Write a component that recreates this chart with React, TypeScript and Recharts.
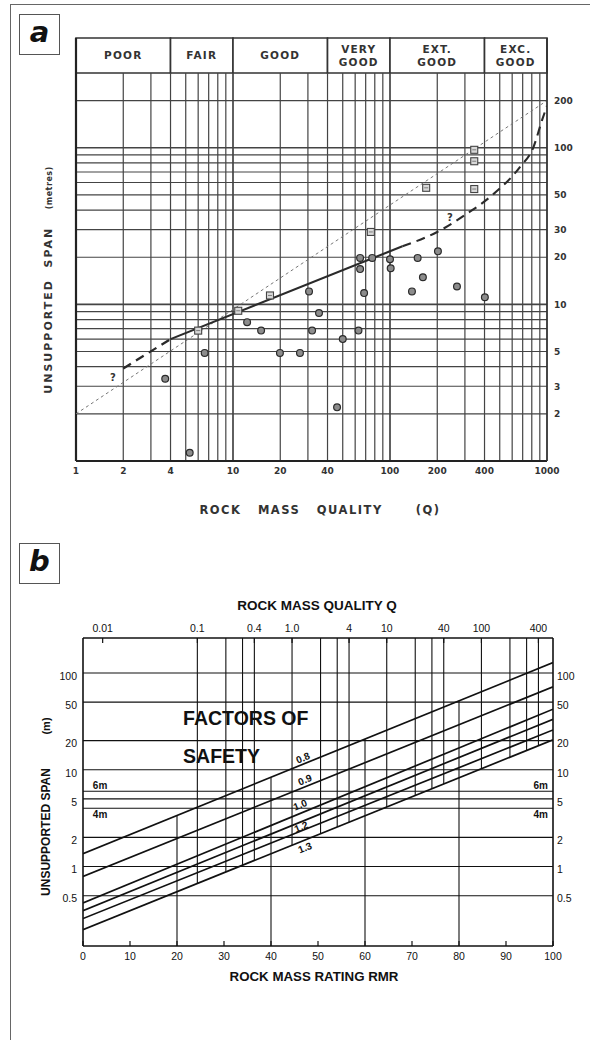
import React from "react";
import {
  ComposedChart,
  Line,
  Scatter,
  XAxis,
  YAxis,
  ReferenceLine,
  ReferenceArea,
  ReferenceDot,
} from "recharts";

// two panels: (a) Barton case records, (b) Bieniawski span vs RMR with factors of safety

const FONT_A = "'DejaVu Sans', sans-serif";
const FONT_B = "'Liberation Sans', Arial, sans-serif";
const INK_A = "#333";
const INK_B = "#111";

// ---------- panel a ----------
const qTicksA = [1, 2, 4, 10, 20, 40, 100, 200, 400, 1000];
const spanTicksA = [2, 3, 4, 5, 10, 20, 30, 40, 50, 100, 200];
const qGridA = [2, 3, 4, 5, 6, 7, 8, 9, 10, 20, 30, 40, 50, 60, 70, 80, 90, 100, 200, 300, 400, 500, 600, 700, 800, 900];
const spanGridA = [2, 3, 4, 5, 6, 7, 8, 9, 10, 20, 30, 40, 50, 60, 70, 80, 90, 100, 200];
const qClassNames = [["POOR"], ["FAIR"], ["GOOD"], ["VERY", "GOOD"], ["EXT.", "GOOD"], ["EXC.", "GOOD"]];
const qClassBounds = [1, 4, 10, 40, 100, 400, 1000];

const trendLine = [
  { q: 1, span: 2 },
  { q: 1000, span: 200 },
];
const maxSpanLow = [
  { q: 2, span: 3.9 },
  { q: 4, span: 6 },
];
const maxSpanMid = [
  { q: 4, span: 6 },
  { q: 120, span: 23.5 },
];
const maxSpanHigh = [
  { q: 120, span: 23.5 },
  { q: 200, span: 29 },
  { q: 310, span: 38 },
  { q: 450, span: 50 },
  { q: 670, span: 75 },
  { q: 820, span: 101 },
  { q: 930, span: 150 },
  { q: 1000, span: 185 },
];
const caseCircles = [
  { q: 3.7, span: 3.35 },
  { q: 5.3, span: 1.13 },
  { q: 6.6, span: 4.9 },
  { q: 12.3, span: 7.7 },
  { q: 15.1, span: 6.8 },
  { q: 19.9, span: 4.9 },
  { q: 26.7, span: 4.9 },
  { q: 30.5, span: 12.1 },
  { q: 31.9, span: 6.8 },
  { q: 35.3, span: 8.8 },
  { q: 46, span: 2.2 },
  { q: 50, span: 6.0 },
  { q: 63, span: 6.8 },
  { q: 64.5, span: 19.8 },
  { q: 64.5, span: 16.8 },
  { q: 68.4, span: 11.8 },
  { q: 77, span: 19.8 },
  { q: 100, span: 19.4 },
  { q: 101, span: 17 },
  { q: 138, span: 12.1 },
  { q: 150, span: 19.8 },
  { q: 162, span: 14.9 },
  { q: 202, span: 21.8 },
  { q: 267, span: 13 },
  { q: 402, span: 11.1 },
];
const caseSquares = [
  { q: 6.0, span: 6.8 },
  { q: 10.8, span: 9.1 },
  { q: 17.2, span: 11.4 },
  { q: 75.5, span: 29 },
  { q: 170, span: 55.5 },
  { q: 344, span: 97 },
  { q: 344, span: 82 },
  { q: 344, span: 54.5 },
];

// ---------- panel b ----------
const rmrTicks = [0, 10, 20, 30, 40, 50, 60, 70, 80, 90, 100];
const qTicksB = [0.01, 0.1, 0.4, 1, 4, 10, 40, 100, 400];
const qLabelsB = ["0.01", "0.1", "0.4", "1.0", "4", "10", "40", "100", "400"];
const qGridB = [0.1, 0.2, 0.3, 0.4, 1, 2, 3, 4, 10, 20, 30, 40, 100, 200, 300, 400];
const rmrGrid = [20, 40, 60, 80];
const spanTicksB = [0.5, 1, 2, 5, 10, 20, 50, 100];
const spanGridB = [0.5, 1, 2, 4, 5, 6, 10, 20, 50, 100];
const fsNames = ["0.8", "0.9", "1.0", "1.1", "1.2", "1.3"];
const fsSpanAt0 = [1.36, 0.79, 0.42, 0.35, 0.29, 0.223];
const fsSpanAt100 = [128, 72, 42.3, 33.3, 25.8, 20.4];

// Q scale printed along the top edge (log), spanning RMR 0..100
const Q_AT_RMR_0 = 0.0062;
const Q_AT_RMR_100 = 570;
const SPAN_DOMAIN_B: [number, number] = [0.151, 230];

const fsSeries = fsNames.map((name, i) => ({
  name,
  data: [
    { rmr: 0, span: fsSpanAt0[i] },
    { rmr: 100, span: fsSpanAt100[i] },
  ],
}));

// span of a (log-straight) FS line at a given RMR
function spanOn(i: number, rmr: number) {
  const a = Math.log10(fsSpanAt0[i]);
  const b = Math.log10(fsSpanAt100[i]);
  return Math.pow(10, a + ((b - a) * rmr) / 100);
}
function qToRmr(q: number) {
  const lo = Math.log10(Q_AT_RMR_0);
  const hi = Math.log10(Q_AT_RMR_100);
  return (100 * (Math.log10(q) - lo)) / (hi - lo);
}

function HeaderLabel({ viewBox, rows }: any) {
  if (!viewBox) return null;
  const cx = viewBox.x + viewBox.width / 2;
  const cy = viewBox.y + viewBox.height / 2;
  const start = cy - ((rows.length - 1) * 13) / 2;
  return (
    <text textAnchor="middle" fontFamily={FONT_A} fontWeight="bold" fontSize={10.5} letterSpacing={1.2} fill={INK_A}>
      {rows.map((r: string, k: number) => (
        <tspan key={k} x={cx} y={start + k * 13} dy="0.36em">
          {r}
        </tspan>
      ))}
    </text>
  );
}

function Annot({ viewBox, txt, rot = 0, anchor = "middle", size = 10, font = FONT_B, color = INK_B }: any) {
  if (!viewBox) return null;
  const cx = viewBox.x + (viewBox.width || 0) / 2;
  const cy = viewBox.y + (viewBox.height || 0) / 2;
  return (
    <text
      x={cx}
      y={cy}
      dy="0.36em"
      textAnchor={anchor}
      transform={rot ? `rotate(${rot} ${cx} ${cy})` : undefined}
      fontFamily={font}
      fontSize={size}
      fontWeight="bold"
      fill={color}
    >
      {txt}
    </text>
  );
}

// tick mark + label on the top (Q) edge
function QTopLabel({ viewBox, txt }: any) {
  if (!viewBox) return null;
  const x = viewBox.x;
  const y = viewBox.y;
  return (
    <g>
      <line x1={x} x2={x} y1={y} y2={y + 5} stroke={INK_B} strokeWidth={1.2} />
      <text x={x} y={y - 6} textAnchor="middle" fontFamily={FONT_B} fontSize={10.5} fill={INK_B}>
        {txt}
      </text>
    </g>
  );
}

const TickBottomA = ({ x, y, payload }: any) => (
  <text x={x} y={y + 13} textAnchor="middle" fontFamily={FONT_A} fontWeight="bold" fontSize={9} fill={INK_A}>
    {payload.value}
  </text>
);
const TickRightA = ({ x, y, payload }: any) => (
  <text x={x + 7} y={y} dy="0.36em" textAnchor="start" fontFamily={FONT_A} fontWeight="bold" fontSize={9} fill={INK_A}>
    {payload.value}
  </text>
);
const TickBottomB = ({ x, y, payload }: any) => (
  <g>
    <line x1={x} x2={x} y1={y} y2={y - 5} stroke={INK_B} strokeWidth={1.2} />
    <text x={x} y={y + 14} textAnchor="middle" fontFamily={FONT_B} fontSize={10.5} fill={INK_B}>
      {payload.value}
    </text>
  </g>
);
const TickLeftB = ({ x, y, payload }: any) => (
  <text x={x - 6} y={y + 3} dy="0.36em" textAnchor="end" fontFamily={FONT_B} fontSize={10.5} fill={INK_B}>
    {payload.value}
  </text>
);
const TickRightB = ({ x, y, payload }: any) => (
  <text x={x + 4} y={y + 3} dy="0.36em" textAnchor="start" fontFamily={FONT_B} fontSize={10.5} fill={INK_B}>
    {payload.value}
  </text>
);

const circleShape = (p: any) => (
  <circle cx={p.cx} cy={p.cy} r={3.4} fill="#8c8c8c" stroke="#2b2b2b" strokeWidth={1.2} />
);
const squareShape = (p: any) => (
  <g>
    <rect x={p.cx - 3.5} y={p.cy - 3.5} width={7} height={7} fill="#d8d8d8" stroke="#444" strokeWidth={1.1} />
    <line x1={p.cx - 2} x2={p.cx + 2} y1={p.cy} y2={p.cy} stroke="#666" strokeWidth={0.8} />
  </g>
);

function Txt({ x, y, children, size, font, rotate = 0, spacing = 0, color, weight = "bold" }: any) {
  return (
    <div
      style={{
        position: "absolute",
        left: x,
        top: y,
        transform: `translate(-50%,-50%) rotate(${rotate}deg)`,
        fontFamily: font,
        fontSize: size,
        fontWeight: weight,
        letterSpacing: spacing,
        color,
        whiteSpace: "pre",
        lineHeight: 1,
      }}
    >
      {children}
    </div>
  );
}

function PanelTag({ top, letter }: { top: number; letter: string }) {
  return (
    <div
      style={{
        position: "absolute",
        left: 19,
        top,
        width: 39,
        height: 39,
        border: "1px solid #555",
        display: "flex",
        alignItems: "center",
        justifyContent: "center",
        fontFamily: FONT_A,
        fontStyle: "italic",
        fontWeight: "bold",
        fontSize: 29,
        lineHeight: 1,
        color: "#111",
      }}
    >
      <span style={{ marginTop: -4 }}>{letter}</span>
    </div>
  );
}

function PanelA() {
  const grid = "#444";
  return (
    <ComposedChart width={590} height={520} margin={{ top: 38, right: 0, left: 76, bottom: 0 }}>
      <XAxis
        dataKey="q"
        type="number"
        scale="log"
        domain={[1, 1000]}
        allowDataOverflow
        ticks={qTicksA}
        tick={<TickBottomA />}
        tickLine={false}
        tickSize={0}
        tickMargin={0}
        height={59}
        axisLine={{ stroke: "#222", strokeWidth: 2.2 }}
      />
      <YAxis
        dataKey="span"
        type="number"
        scale="log"
        orientation="right"
        domain={[1, 502]}
        allowDataOverflow
        ticks={spanTicksA}
        tick={<TickRightA />}
        tickLine={false}
        tickSize={0}
        tickMargin={0}
        width={43}
        axisLine={{ stroke: "#333", strokeWidth: 1.8 }}
      />
      {spanGridA.map((v) => (
        <ReferenceLine key={"h" + v} y={v} stroke={grid} strokeWidth={v === 10 || v === 100 ? 1.7 : 1.2} />
      ))}
      {qGridA.map((v) => (
        <ReferenceLine
          key={"v" + v}
          segment={[
            { x: v, y: 1 },
            { x: v, y: 300 },
          ]}
          stroke={grid}
          strokeWidth={v === 10 || v === 100 ? 1.7 : 1.2}
        />
      ))}
      {qClassNames.map((rows, i) => (
        <ReferenceArea
          key={"c" + i}
          x1={qClassBounds[i]}
          x2={qClassBounds[i + 1]}
          y1={300}
          y2={502}
          fill="#fff"
          fillOpacity={1}
          stroke="#333"
          strokeWidth={1.6}
          label={<HeaderLabel rows={rows} />}
        />
      ))}
      <ReferenceLine x={1} stroke="#222" strokeWidth={2.2} />
      <Line data={trendLine} dataKey="span" stroke="#777" strokeWidth={1} strokeDasharray="3 3" dot={false} isAnimationActive={false} />
      <Line data={maxSpanLow} dataKey="span" stroke="#2a2a2a" strokeWidth={2.3} strokeDasharray="9 6" dot={false} isAnimationActive={false} />
      <Line data={maxSpanMid} dataKey="span" stroke="#2a2a2a" strokeWidth={2.1} dot={false} isAnimationActive={false} />
      <Line data={maxSpanHigh} type="monotone" dataKey="span" stroke="#2a2a2a" strokeWidth={2.1} strokeDasharray="9 6" dot={false} isAnimationActive={false} />
      <Scatter data={caseCircles} dataKey="span" shape={circleShape} isAnimationActive={false} />
      <Scatter data={caseSquares} dataKey="span" shape={squareShape} isAnimationActive={false} />
      <ReferenceDot x={1.72} y={3.44} r={0.1} fill="none" stroke="none" label={<Annot txt="?" size={10} font={FONT_A} color={INK_A} />} />
      <ReferenceDot x={241} y={35.7} r={0.1} fill="none" stroke="none" label={<Annot txt="?" size={10} font={FONT_A} color={INK_A} />} />
    </ComposedChart>
  );
}

function PanelB() {
  const ax = { xAxisId: "rmr", yAxisId: "l" };
  const frame = { stroke: INK_B, strokeWidth: 1.6 };
  const top = SPAN_DOMAIN_B[1];
  return (
    <ComposedChart width={590} height={440} margin={{ top: 78, right: 0, left: 0, bottom: 0 }}>
      <XAxis
        xAxisId="rmr"
        dataKey="rmr"
        type="number"
        domain={[0, 100]}
        allowDataOverflow
        ticks={rmrTicks}
        tick={<TickBottomB />}
        tickLine={false}
        tickSize={0}
        tickMargin={0}
        height={54}
        axisLine={frame}
      />
      <YAxis
        yAxisId="l"
        dataKey="span"
        type="number"
        scale="log"
        domain={SPAN_DOMAIN_B}
        allowDataOverflow
        ticks={spanTicksB}
        tick={<TickLeftB />}
        tickLine={false}
        tickSize={0}
        tickMargin={0}
        width={83}
        axisLine={frame}
      />
      <YAxis
        yAxisId="r"
        orientation="right"
        type="number"
        scale="log"
        domain={SPAN_DOMAIN_B}
        allowDataOverflow
        ticks={spanTicksB}
        tick={<TickRightB />}
        tickLine={false}
        tickSize={0}
        tickMargin={0}
        width={37}
        axisLine={frame}
      />
      <ReferenceLine {...ax} y={top} stroke={INK_B} strokeWidth={1.6} />
      {spanGridB.map((v) => (
        <ReferenceLine key={"h" + v} {...ax} y={v} stroke={INK_B} strokeWidth={1.1} />
      ))}
      {rmrGrid.map((v) => (
        <ReferenceLine
          key={"r" + v}
          {...ax}
          segment={[
            { x: v, y: SPAN_DOMAIN_B[0] },
            { x: v, y: spanOn(0, v) },
          ]}
          stroke={INK_B}
          strokeWidth={1.1}
        />
      ))}
      {qGridB.map((v) => {
        const r = qToRmr(v);
        return (
          <ReferenceLine
            key={"q" + v}
            {...ax}
            segment={[
              { x: r, y: top },
              { x: r, y: spanOn(5, r) },
            ]}
            stroke={INK_B}
            strokeWidth={1.1}
          />
        );
      })}
      {qTicksB.map((v, i) => {
        const r = qToRmr(v);
        return (
          <ReferenceLine
            key={"qt" + v}
            {...ax}
            segment={[
              { x: r, y: top },
              { x: r, y: top },
            ]}
            stroke="none"
            label={<QTopLabel txt={qLabelsB[i]} />}
          />
        );
      })}
      {fsSeries.map((s) => (
        <Line
          key={s.name}
          {...ax}
          data={s.data}
          dataKey="span"
          name={s.name}
          stroke={INK_B}
          strokeWidth={1.7}
          dot={false}
          isAnimationActive={false}
        />
      ))}
      <ReferenceDot {...ax} x={46.8} y={13.3} r={0.1} fill="none" stroke="none" label={<Annot txt="0.8" rot={-22} />} />
      <ReferenceDot {...ax} x={47.2} y={7.9} r={0.1} fill="none" stroke="none" label={<Annot txt="0.9" rot={-22} />} />
      <ReferenceDot {...ax} x={46.2} y={4.35} r={0.1} fill="none" stroke="none" label={<Annot txt="1.0" rot={-22} />} />
      <ReferenceDot {...ax} x={46.4} y={2.58} r={0.1} fill="none" stroke="none" label={<Annot txt="1.2" rot={-22} />} />
      <ReferenceDot {...ax} x={47.2} y={1.57} r={0.1} fill="none" stroke="none" label={<Annot txt="1.3" rot={-22} />} />
      <ReferenceDot {...ax} x={2.1} y={6.84} r={0.1} fill="none" stroke="none" label={<Annot txt="6m" anchor="start" />} />
      <ReferenceDot {...ax} x={2.1} y={3.44} r={0.1} fill="none" stroke="none" label={<Annot txt="4m" anchor="start" />} />
      <ReferenceDot {...ax} x={98.9} y={6.84} r={0.1} fill="none" stroke="none" label={<Annot txt="6m" anchor="end" />} />
      <ReferenceDot {...ax} x={98.9} y={3.44} r={0.1} fill="none" stroke="none" label={<Annot txt="4m" anchor="end" />} />
      <ReferenceDot {...ax} x={21.3} y={34.4} r={0.1} fill="none" stroke="none" label={<Annot txt="FACTORS OF" anchor="start" size={19.5} />} />
      <ReferenceDot {...ax} x={21.3} y={13.9} r={0.1} fill="none" stroke="none" label={<Annot txt="SAFETY" anchor="start" size={19.5} />} />
    </ComposedChart>
  );
}

export default function App() {
  return (
    <div style={{ position: "absolute", left: 0, top: 0, width: 590, height: 1040, background: "#fff", overflow: "hidden" }}>
      <div style={{ position: "absolute", left: 10, top: 4, width: 580, height: 0, borderTop: "1.5px solid #666" }} />
      <div style={{ position: "absolute", left: 10, top: 4, width: 0, height: 1036, borderLeft: "1.5px solid #666" }} />
      <PanelTag top={14} letter="a" />
      <PanelTag top={543} letter="b" />

      <div style={{ position: "absolute", left: 0, top: 0 }}>
        <PanelA />
      </div>
      <Txt x={48} y={280} rotate={-90} size={11} font={FONT_A} spacing={2} color={INK_A}>
        {"UNSUPPORTED  SPAN   "}
        <span style={{ fontSize: 8, letterSpacing: 0.5 }}>(metres)</span>
      </Txt>
      <Txt x={320} y={511} size={11.5} font={FONT_A} spacing={1.5} color={INK_A}>
        {"ROCK   MASS   QUALITY      (Q)"}
      </Txt>

      <div style={{ position: "absolute", left: 0, top: 560 }}>
        <PanelB />
      </div>
      <Txt x={317} y={606} size={13.5} font={FONT_B} color={INK_B}>
        ROCK MASS QUALITY Q
      </Txt>
      <Txt x={314} y={977} size={13.3} font={FONT_B} color={INK_B}>
        ROCK MASS RATING RMR
      </Txt>
      <Txt x={46} y={832} rotate={-90} size={12} font={FONT_B} color={INK_B}>
        UNSUPPORTED SPAN
      </Txt>
      <Txt x={46} y={726} rotate={-90} size={11} font={FONT_B} color={INK_B}>
        (m)
      </Txt>
    </div>
  );
}
